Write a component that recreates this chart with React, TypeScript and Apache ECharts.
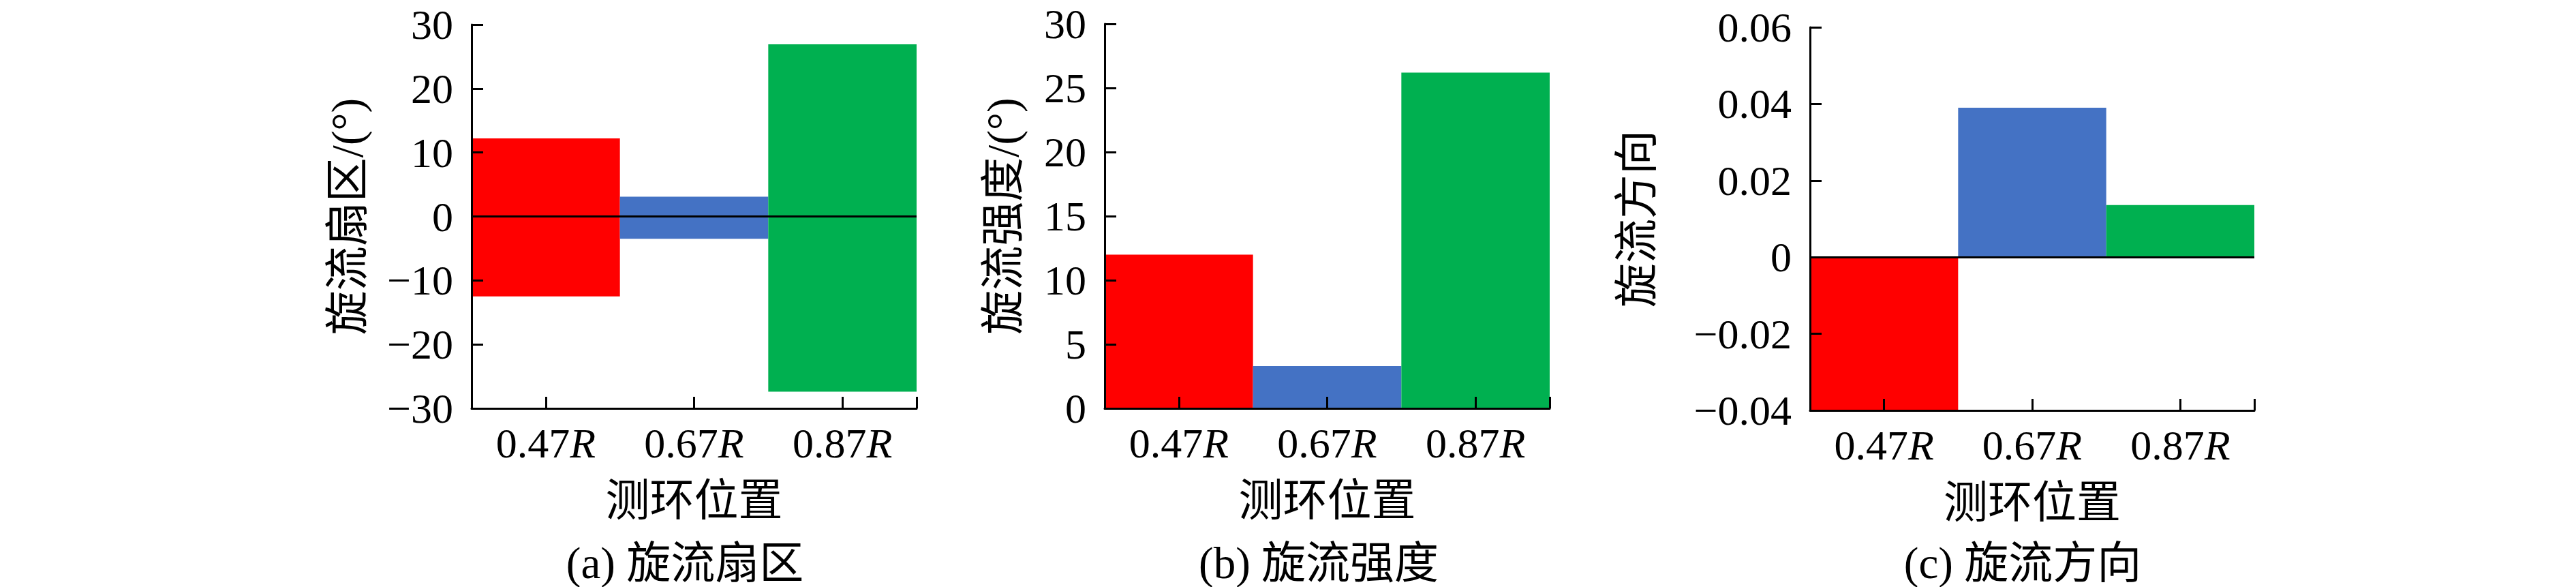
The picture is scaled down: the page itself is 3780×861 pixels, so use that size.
import React, { useEffect, useRef } from 'react';
import * as echarts from 'echarts';

// ---- data ----
const categories = ['0.47', '0.67', '0.87'];
const barColors = ['#FF0000', '#4472C4', '#00B050'];
const sectorUpper = [12.2, 3.1, 26.9];
const sectorLower = [-12.5, -3.5, -27.4];
const intensity = [12.0, 3.3, 26.2];
const direction = [-0.04, 0.039, 0.0136];
const yNames = ['旋流扇区/(°)', '旋流强度/(°)', '旋流方向'];
const xName = '测环位置';
const captions = ['(a) 旋流扇区', '(b) 旋流强度', '(c) 旋流方向'];
const yMin = [-30, 0, -0.04];
const yMax = [30, 30, 0.06];
const yStep = [10, 5, 0.02];
const yDecimals = [0, 0, 2];

// ---- layout ----
const grids = [
  { left: 692, top: 36, width: 653, height: 563 },
  { left: 1621, top: 35, width: 653, height: 564 },
  { left: 2656, top: 40, width: 652, height: 562 },
];
const yNameGap = [150, 117, 222];
const captionX = [1005, 1935, 2968];

const SERIF = "'Liberation Serif', 'Times New Roman', serif";
const MIX = "'Liberation Serif', 'Noto Sans CJK SC', serif";
const FS = 62;
const CFS = 65;

const colored = (vals: number[]) =>
  vals.map((v, i) => ({ value: v, itemStyle: { color: barColors[i] } }));

const zeroLine = {
  silent: true,
  symbol: ['none', 'none'],
  label: { show: false },
  lineStyle: { color: '#000', width: 3, type: 'solid' },
  data: [{ yAxis: 0 }],
};

export default function App() {
  const ref = useRef<HTMLDivElement>(null);
  useEffect(() => {
    document.body.style.margin = '0';
    if (!ref.current) return;
    const chart = echarts.init(ref.current, undefined, { renderer: 'svg' });

    const xAxis: any[] = [];
    const yAxis: any[] = [];
    grids.forEach((_, g) => {
      xAxis.push({
        type: 'category',
        gridIndex: g,
        position: 'bottom',
        data: categories,
        z: 10,
        name: xName,
        nameLocation: 'middle',
        nameGap: 102,
        nameTextStyle: { fontFamily: MIX, fontSize: CFS, color: '#000' },
        axisLine: { show: true, onZero: false, lineStyle: { color: '#000', width: 3 } },
        axisTick: { show: true, alignWithLabel: true, inside: true, length: 17, lineStyle: { color: '#000', width: 3 } },
        axisLabel: {
          margin: 20,
          formatter: (v: string) => `{n|${v}}{i|R}`,
          rich: {
            n: { fontFamily: SERIF, fontSize: FS, color: '#000' },
            i: { fontFamily: SERIF, fontSize: FS, fontStyle: 'italic', color: '#000' },
          },
        },
        splitLine: { show: false },
      });
      xAxis.push({
        type: 'value',
        gridIndex: g,
        position: 'bottom',
        min: 0,
        max: 3,
        interval: 3,
        z: 10,
        axisLine: { show: false, onZero: false },
        axisTick: { show: true, inside: true, length: 17, lineStyle: { color: '#000', width: 3 } },
        axisLabel: { show: false },
        splitLine: { show: false },
      });
      yAxis.push({
        type: 'value',
        gridIndex: g,
        min: yMin[g],
        max: yMax[g],
        interval: yStep[g],
        z: 10,
        name: yNames[g],
        nameLocation: 'middle',
        nameRotate: 90,
        nameGap: yNameGap[g],
        nameTextStyle: { fontFamily: MIX, fontSize: CFS, color: '#000' },
        axisLine: { show: true, onZero: false, lineStyle: { color: '#000', width: 3 } },
        axisTick: { show: true, inside: true, length: 17, lineStyle: { color: '#000', width: 3 } },
        axisLabel: {
          margin: 27,
          fontFamily: SERIF,
          fontSize: FS,
          color: '#000',
          formatter: (v: number) =>
            Math.abs(v) < 1e-9 ? '0' : v.toFixed(yDecimals[g]).replace('-', '\u2212'),
        },
        splitLine: { show: false },
      });
    });

    const series: any[] = [
      {
        type: 'bar', xAxisIndex: 0, yAxisIndex: 0, stack: 'a', barCategoryGap: '0%',
        data: colored(sectorUpper), markLine: zeroLine,
      },
      {
        type: 'bar', xAxisIndex: 0, yAxisIndex: 0, stack: 'a', barCategoryGap: '0%',
        data: colored(sectorLower),
      },
      {
        type: 'bar', xAxisIndex: 2, yAxisIndex: 1, barCategoryGap: '0%',
        data: colored(intensity),
      },
      {
        type: 'bar', xAxisIndex: 4, yAxisIndex: 2, barCategoryGap: '0%',
        data: colored(direction), markLine: zeroLine,
      },
    ];

    chart.setOption({
      animation: false,
      backgroundColor: '#fff',
      grid: grids.map((r) => ({ ...r, containLabel: false })),
      xAxis,
      yAxis,
      series,
      graphic: captions.map((t, i) => ({
        type: 'text',
        x: captionX[i],
        y: 826,
        style: {
          text: t,
          fontFamily: MIX,
          fontSize: CFS,
          fill: '#000',
          textAlign: 'center',
          textVerticalAlign: 'middle',
        },
      })),
    });
    return () => chart.dispose();
  }, []);
  return <div ref={ref} style={{ width: 3780, height: 861 }} />;
}
